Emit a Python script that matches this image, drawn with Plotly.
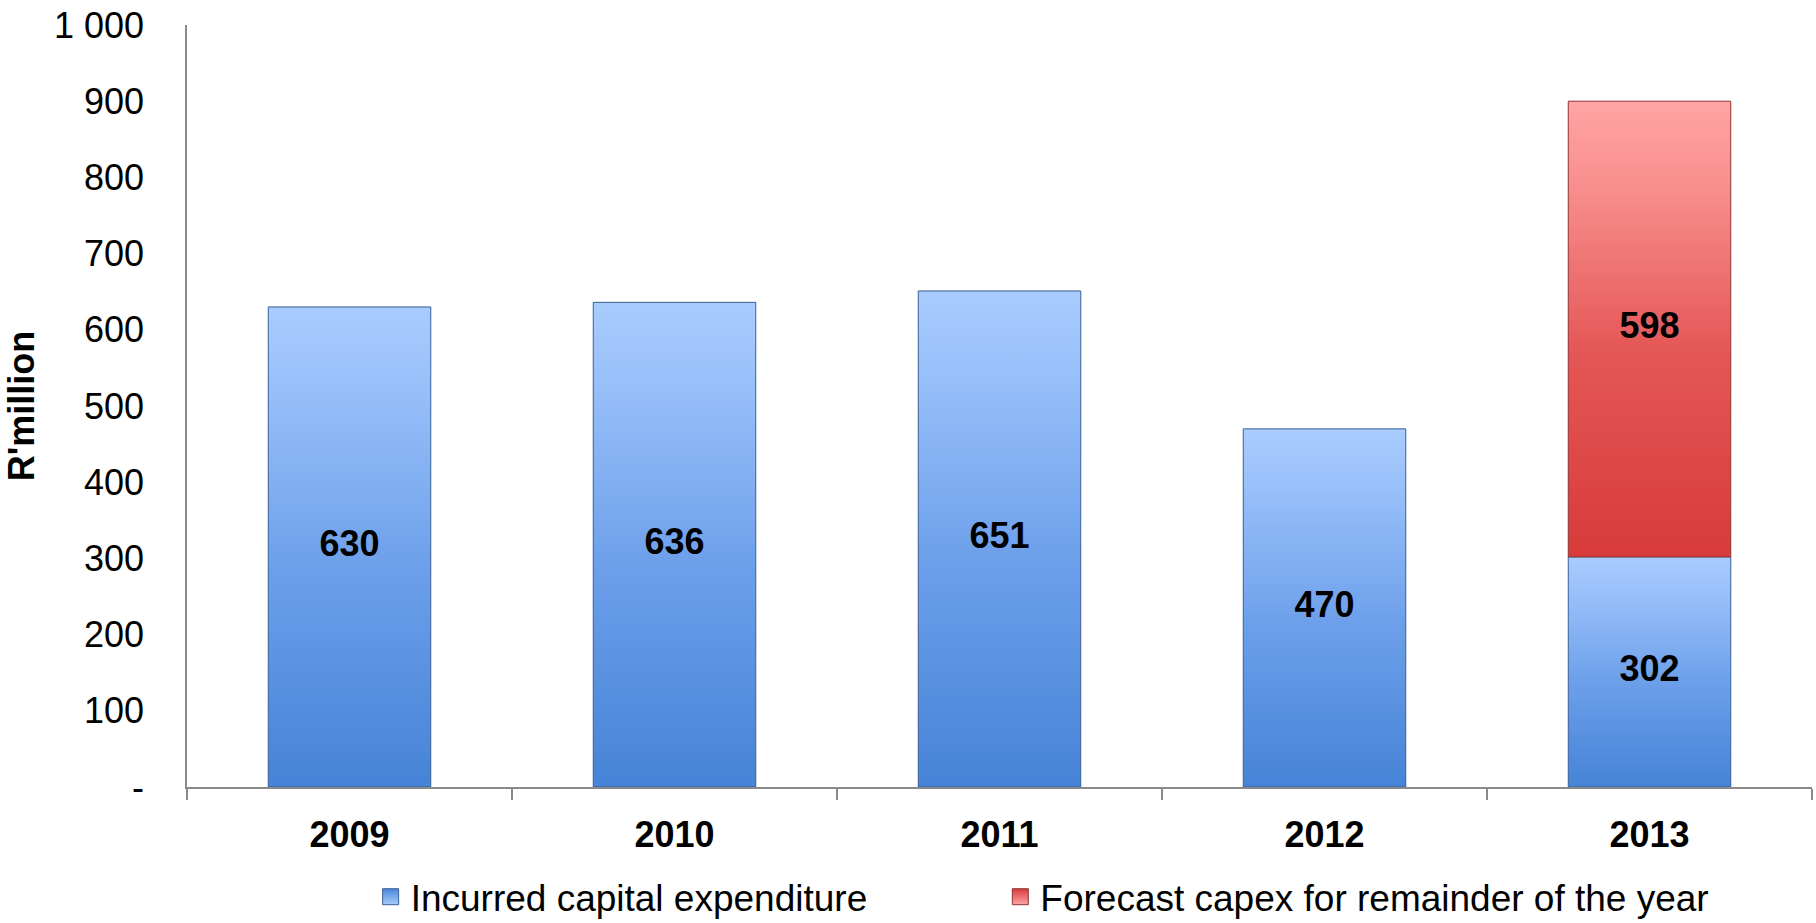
import plotly.graph_objects as go

# Capital expenditure by year (R'million)
years = ["2009", "2010", "2011", "2012", "2013"]
incurred = [630, 636, 651, 470, 302]
forecast = [0, 0, 0, 0, 598]

y_tick_values = [0, 100, 200, 300, 400, 500, 600, 700, 800, 900, 1000]
y_tick_labels = ["-", "100", "200", "300", "400", "500", "600", "700", "800", "900", "1 000"]

series_names = ["Incurred capital expenditure", "Forecast capex for remainder of the year"]

FONT = "Liberation Sans, Arial, sans-serif"
BAR_WIDTH = 0.5
AXIS_GREY = "#8a8a8a"

BLUE_SCALE = [[0.0, "#4683d6"], [0.45, "#6c9fea"], [0.8, "#94bdf8"], [1.0, "#a9ccfe"]]
RED_SCALE = [[0.0, "#d73b3a"], [0.45, "#e45756"], [0.8, "#f78d8c"], [1.0, "#ffa4a4"]]
BLUE_EDGE = "#3a5f95"
RED_EDGE = "#8e3535"

fig = go.Figure()


def add_segment(pos, base, value, scale, edge):
    """Draw one bar segment as a gradient-filled rectangle on the data axes."""
    x0, x1 = pos - BAR_WIDTH / 2, pos + BAR_WIDTH / 2
    top = base + value
    fig.add_trace(go.Scatter(
        x=[x0, x1, x1, x0, x0],
        y=[base, base, top, top, base],
        mode="lines",
        fill="toself",
        fillgradient=dict(type="vertical", colorscale=scale),
        line=dict(color=edge, width=1),
        showlegend=False,
        hoverinfo="skip",
    ))


positions = list(range(len(years)))

for i, v in zip(positions, incurred):
    if v:
        add_segment(i, 0, v, BLUE_SCALE, BLUE_EDGE)
for i, (b, v) in enumerate(zip(incurred, forecast)):
    if v:
        add_segment(i, b, v, RED_SCALE, RED_EDGE)

# Value labels centred in each segment
lbl_x, lbl_y, lbl_t = [], [], []
for i, v in zip(positions, incurred):
    if v:
        lbl_x.append(i); lbl_y.append(v / 2); lbl_t.append(str(v))
for i, (b, v) in enumerate(zip(incurred, forecast)):
    if v:
        lbl_x.append(i); lbl_y.append(b + v / 2); lbl_t.append(str(v))

fig.add_trace(go.Scatter(
    x=lbl_x, y=lbl_y, text=lbl_t, mode="text",
    textposition="middle center",
    textfont=dict(family=FONT, size=36, color="#000000", weight="bold"),
    showlegend=False, hoverinfo="skip",
))

# Legend entries, one legend box per series
for name, col, grad, edge, leg in [
    (series_names[0], "#4a86d8", "#a9ccfe", BLUE_EDGE, "legend"),
    (series_names[1], "#d83c3b", "#ffa4a4", RED_EDGE, "legend2"),
]:
    fig.add_trace(go.Scatter(
        x=[None], y=[None], mode="markers", name=name, legend=leg,
        marker=dict(symbol="square", size=16, color=col,
                    gradient=dict(type="vertical", color=grad),
                    line=dict(color=edge, width=1)),
    ))

legend_style = dict(
    orientation="h", xanchor="left", yref="container", y=0.028, yanchor="middle",
    font=dict(family=FONT, size=37, color="#000000"),
    bgcolor="rgba(0,0,0,0)", itemsizing="trace",
)

fig.update_layout(
    width=1816, height=923,
    margin=dict(l=187, r=4, t=25, b=136),
    paper_bgcolor="white", plot_bgcolor="white",
    font=dict(family=FONT, size=36, color="#000000"),
    showlegend=True,
    legend=dict(x=0.113, **legend_style),
    legend2=dict(x=0.5005, **legend_style),
    xaxis=dict(
        range=[-0.5, 4.5],
        tickmode="array", tickvals=positions, ticktext=years,
        tickfont=dict(family=FONT, size=36, color="#000000", weight="bold"),
        ticks="", showgrid=False, zeroline=False,
        showline=True, linecolor=AXIS_GREY, linewidth=1.5,
        ticklabelstandoff=15,
        minor=dict(tick0=-0.5, dtick=1, ticks="outside", ticklen=11,
                   tickcolor=AXIS_GREY, tickwidth=1.5, showgrid=False),
    ),
    yaxis=dict(
        range=[0, 1000],
        tickmode="array", tickvals=y_tick_values, ticktext=y_tick_labels,
        tickfont=dict(family=FONT, size=36, color="#000000"),
        ticks="", showgrid=False, zeroline=False,
        showline=True, linecolor=AXIS_GREY, linewidth=1.5,
        ticklabelstandoff=34,
        title=dict(text="R'million", standoff=8,
                   font=dict(family=FONT, size=36, color="#000000", weight="bold")),
    ),
)

fig.write_html("out.html")
